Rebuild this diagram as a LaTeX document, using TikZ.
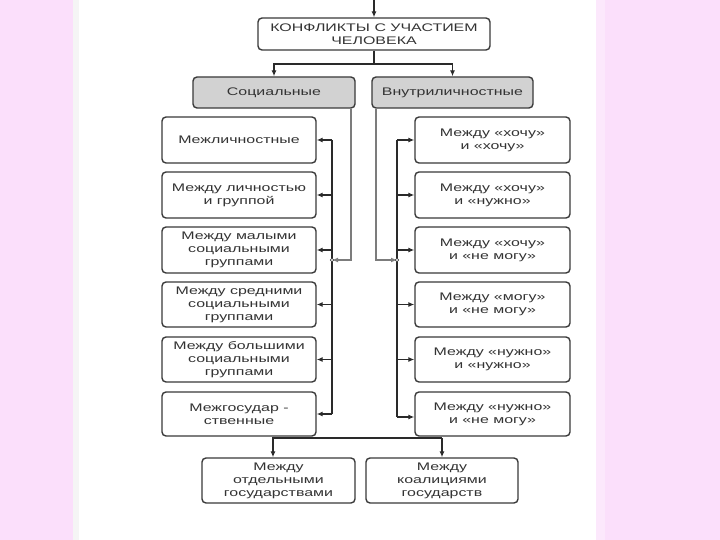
\documentclass[tikz,border=0pt]{standalone}
\usepackage{fontspec}
\setmainfont{Liberation Sans}[FakeStretch=1.45]
\usetikzlibrary{arrows.meta}
\definecolor{pinkbg}{HTML}{FBDFFB}
\definecolor{pinklt}{HTML}{FCE8FC}
\definecolor{edgecol}{HTML}{3A3A3A}
\definecolor{txtcol}{HTML}{333333}
\definecolor{grayfill}{HTML}{D2D2D2}
\definecolor{buscol}{HTML}{2A2A2A}
\definecolor{feedcol}{HTML}{7C7C7C}
\tikzset{
  box/.style={draw=edgecol, line width=1.4pt, rounded corners=4pt, fill=white,
    text=txtcol, align=center, inner sep=0pt,
    font=\fontsize{11}{13}\selectfont},
  graybox/.style={box, fill=grayfill},
  arr/.style={draw=buscol, line width=1.3pt, -{Latex[length=6pt,width=5pt]}},
  bus/.style={draw=buscol, line width=1.5pt},
  feed/.style={draw=feedcol, line width=2pt},
  feedarr/.style={feed, -{Latex[length=6pt,width=5pt]}},
  junc/.style={circle, draw=buscol, fill=white, line width=0.6pt, inner sep=0pt, minimum size=3.6pt}
}
\begin{document}
\begin{tikzpicture}[x=1pt,y=-1pt]
\useasboundingbox (0,0) rectangle (720,540);
\fill[pinkbg] (0,0) rectangle (720,540);
\fill[white] (73,0) rectangle (596,540);
\fill[pinklt] (596,0) rectangle (605,540);
\fill[black!4] (73,0) rectangle (79,540);

% top
\node[box, minimum width=232pt, minimum height=32pt] (top) at (374,34) {КОНФЛИКТЫ С УЧАСТИЕМ\\ЧЕЛОВЕКА};
\coordinate (topin) at (374,0);
\draw[arr] (topin) -- (top.north);

% second level
\node[graybox, minimum width=162pt, minimum height=31pt] (soc) at (274,92.5) {Социальные};
\node[graybox, minimum width=161pt, minimum height=31pt] (inn) at (452.5,92.5) {Внутриличностные};
\coordinate (split) at (374,64);
\draw[bus] (top.south) -- (split);
\draw[arr] (split) -| (soc.north);
\draw[arr] (split) -| (inn.north);

% left column
\node[box, minimum width=154pt, minimum height=46pt] (l1) at (239,140) {Межличностные};
\node[box, minimum width=154pt, minimum height=46pt] (l2) at (239,195) {Между личностью\\и группой};
\node[box, minimum width=154pt, minimum height=46pt] (l3) at (239,250) {Между малыми\\социальными\\группами};
\node[box, minimum width=154pt, minimum height=45pt] (l4) at (239,304.5) {Между средними\\социальными\\группами};
\node[box, minimum width=154pt, minimum height=45pt] (l5) at (239,359.5) {Между большими\\социальными\\группами};
\node[box, minimum width=154pt, minimum height=44pt] (l6) at (239,414) {Межгосудар -\\ственные};

% right column
\node[box, minimum width=155pt, minimum height=46pt] (r1) at (492.5,140) {Между «хочу»\\и «хочу»};
\node[box, minimum width=155pt, minimum height=46pt] (r2) at (492.5,195) {Между «хочу»\\и «нужно»};
\node[box, minimum width=155pt, minimum height=46pt] (r3) at (492.5,250) {Между «хочу»\\и «не могу»};
\node[box, minimum width=155pt, minimum height=45pt] (r4) at (492.5,304.5) {Между «могу»\\и «не могу»};
\node[box, minimum width=155pt, minimum height=45pt] (r5) at (492.5,359.5) {Между «нужно»\\и «нужно»};
\node[box, minimum width=155pt, minimum height=44pt] (r6) at (492.5,414) {Между «нужно»\\и «не могу»};

% bottom
\node[box, minimum width=153pt, minimum height=45pt] (b1) at (278.5,480.5) {Между\\отдельными\\государствами};
\node[box, minimum width=152pt, minimum height=45pt] (b2) at (442,480.5) {Между\\коалициями\\государств};

% left bus
\coordinate (lj) at (332,260);
\coordinate (lbtop) at (332,140);
\coordinate (lbbot) at (332,414);
\draw[bus] (lbtop) -- (lbbot);
\foreach \n in {l1,l2,l3,l4,l5,l6} \draw[arr] (\n.east -| lj) -- (\n.east);
\draw[feedarr] ([xshift=-5pt]soc.south east) |- (lj);
\node[junc] (ljc) at (lj) {};

% right bus
\coordinate (rj) at (397,260);
\coordinate (rbtop) at (397,140);
\coordinate (rbbot) at (397,417);
\draw[bus] (rbtop) -- (rbbot);
\foreach \n in {r1,r2,r3,r4,r5} \draw[arr] (\n.west -| rj) -- (\n.west);
\draw[arr] (rbbot) -- (rbbot -| r6.west);
\draw[feedarr] ([xshift=5pt]inn.south west) |- (rj);
\node[junc] (rjc) at (rj) {};

% bottom split
\coordinate (bj) at (273,438);
\draw[bus] (l6.south -| bj) -- (bj) -- (bj -| b2.north);
\draw[arr] (bj) -- (bj |- b1.north);
\draw[arr] (bj -| b2.north) -- (b2.north);
\end{tikzpicture}
\end{document}
